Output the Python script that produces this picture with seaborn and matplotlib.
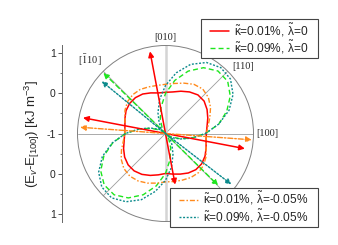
import numpy as np
import matplotlib
matplotlib.use("Agg")
import matplotlib.pyplot as plt
from matplotlib.patches import Rectangle
from matplotlib.ticker import MultipleLocator
import seaborn as sns

# polar angle in degrees (0 = [100]), 10 degree steps, 360 closes the curve
angle_deg = np.arange(0, 370, 10)

# E_v - E_[100] in kJ m^-3, every 10 degrees (0..350)
red_e = [0.02, 0.055, 0.125, 0.20, 0.26, 0.26, 0.20, 0.125, 0.055, 0.03,
         0.03, 0.08, 0.14, 0.17, 0.17, 0.14, 0.08, 0.03,
         0.02, 0.05, 0.115, 0.18, 0.22, 0.22, 0.18, 0.115, 0.05, 0.0,
         0.03, 0.08, 0.14, 0.18, 0.18, 0.14, 0.08, 0.03]
green_e = [0.0, 0.35, 0.63, 0.87, 1.03, 1.04, 0.90, 0.66, 0.35, 0.0,
           -0.34, -0.62, -0.83, -0.94, -0.94, -0.83, -0.62, -0.34,
           0.0, 0.34, 0.64, 0.87, 1.00, 1.00, 0.86, 0.63, 0.33, 0.0,
           -0.34, -0.62, -0.83, -0.94, -0.94, -0.83, -0.62, -0.34]
orange_e = [0.02, 0.08, 0.18, 0.30, 0.40, 0.45, 0.42, 0.34, 0.27, 0.23,
            0.22, 0.24, 0.27, 0.27, 0.24, 0.17, 0.08, 0.03,
            0.02, 0.07, 0.17, 0.28, 0.36, 0.39, 0.37, 0.32, 0.26, 0.21,
            0.22, 0.24, 0.27, 0.28, 0.24, 0.17, 0.08, 0.03]
teal_e = [0.0, 0.35, 0.69, 0.95, 1.12, 1.15, 1.05, 0.84, 0.54, 0.20,
          -0.14, -0.45, -0.68, -0.82, -0.85, -0.78, -0.60, -0.33,
          0.0, 0.35, 0.68, 0.93, 1.08, 1.10, 0.97, 0.76, 0.47, 0.17,
          -0.14, -0.45, -0.68, -0.82, -0.85, -0.78, -0.60, -0.33]

# easy axis arrows: direction (deg) and tip value
red_easy = [100.7, 169.2, -10.8, -79.3]
red_tip = [1.09, 1.10, 1.02, 0.30]
green_easy = [135.7, -44.6]
green_tip = [1.17, 0.85]
orange_easy = [175.8, -4.2]
orange_tip = [1.14, 1.16]
teal_easy = [140.7, -37.7]
teal_tip = [1.06, 1.08]

labels = [r"$\tilde{\mathrm{\kappa}}$=0.01%, $\tilde{\mathrm{\lambda}}$=0",
          r"$\tilde{\mathrm{\kappa}}$=0.09%, $\tilde{\mathrm{\lambda}}$=0",
          r"$\tilde{\mathrm{\kappa}}$=0.01%, $\tilde{\mathrm{\lambda}}$=-0.05%",
          r"$\tilde{\mathrm{\kappa}}$=0.09%, $\tilde{\mathrm{\lambda}}$=-0.05%"]

dir_deg = [0, 45, 90, 135]
dir_labels = ["[100]", "[110]", "[010]", r"[$\bar{1}$10]"]
grid_deg = [0, 45, 90, 135, 180, 225, 270, 315]

r_min, r_max = -1, 1.2
radial_ticks = [1, 0, -1, 0, 1]   # bottom to top along the left scale
tick_side = [-1, -1, 1, 1, 1]

sns.set_style("white")
plt.rcParams["font.family"] = ["Liberation Sans", "DejaVu Sans"]
plt.rcParams["mathtext.fontset"] = "custom"
plt.rcParams["mathtext.rm"] = "Liberation Sans"
plt.rcParams["mathtext.it"] = "Liberation Sans:italic"
plt.rcParams["mathtext.bf"] = "Liberation Sans:bold"

W, H = 338, 245
fig = plt.figure(figsize=(W / 100, H / 100), dpi=100)
ax = fig.add_axes([0.2293, 0.0959, 0.5207, 0.7184], projection="polar")

theta = np.deg2rad(angle_deg)
series = [
    (red_e, red_easy, red_tip, "#ff0000", "-", 1.1),
    (green_e, green_easy, green_tip, "#1ee61e", (0, (3.6, 2.2)), 1.0),
    (orange_e, orange_easy, orange_tip, "#ff8a1c", (0, (3.6, 1.4, 1.1, 1.4)), 1.0),
    (teal_e, teal_easy, teal_tip, "#0b8a8c", (0, (1.4, 1.2)), 1.0),
]

handles = []
for vals, easy, tips, color, ls, lw in series:
    r = np.append(vals, vals[0])
    sns.lineplot(x=theta, y=r, ax=ax, sort=False, estimator=None,
                 color=color, linestyle=ls, lw=lw, zorder=3)
    handles.append(ax.lines[-1])
    for ang, tip in zip(easy, tips):
        ax.annotate("", xy=(np.deg2rad(ang), tip), xytext=(np.deg2rad(ang), r_min),
                    arrowprops=dict(arrowstyle="-|>", color=color, lw=lw, linestyle=ls,
                                    shrinkA=0, shrinkB=0, mutation_scale=8),
                    zorder=4)

ax.set_ylim(r_min, r_max)
ax.set_yticks([])
ax.set_xticks(np.deg2rad(grid_deg))
ax.set_xticklabels([])
ax.tick_params(axis="x", length=0)
ax.set_xlabel("")
ax.set_ylabel("")
ax.grid(axis="x", color="#9c9c9c", lw=0.6)
for a in (90, 270):
    ax.axvline(np.deg2rad(a), color="#d4d4d4", lw=1.8, zorder=1)
ax.spines["polar"].set_color("#808080")
ax.spines["polar"].set_linewidth(0.7)

# crystal direction labels round the circle
label_pos = [(2, 0, "left", "center"), (3, 0, "left", "bottom"),
             (0, 2.5, "center", "bottom"), (-1.2, 2.2, "right", "bottom")]
for ang, txt, (dx, dy, ha, va) in zip(dir_deg, dir_labels, label_pos):
    ax.annotate(txt, xy=(np.deg2rad(ang), r_max), xytext=(dx, dy),
                textcoords="offset points", ha=ha, va=va, fontsize=7.5,
                family="Liberation Serif", math_fontfamily="stix")

# left radial scale: -1 at the centre, growing up and down
axl = fig.add_axes([62 / W, 0.0959, 0.0001, 0.7184])
span = r_max - r_min
axl.set_ylim(-span, span)
axl.set_yticks([(v - r_min) * s for v, s in zip(radial_ticks, tick_side)])
axl.set_yticklabels([str(v) for v in radial_ticks])
axl.yaxis.set_minor_locator(MultipleLocator(0.5))
axl.set_xticks([])
axl.patch.set_visible(False)
for side in ("top", "right", "bottom"):
    axl.spines[side].set_visible(False)
axl.spines["left"].set_color("#666666")
axl.spines["left"].set_linewidth(0.7)
axl.tick_params(axis="y", which="major", direction="out", length=3, width=0.7,
                color="#555555", labelsize=7.5, pad=1.5, left=True)
axl.tick_params(axis="y", which="minor", direction="out", length=1.8, width=0.6,
                color="#555555", left=True)

fig.text(32 / W, 1 - 133.5 / H, r"(E$_v$-E$_{[100]}$) [kJ m$^{-3}$]",
         rotation=90, ha="center", va="center", fontsize=9.5)

# legends: frame drawn separately, wider than tall padding (Origin style)
side_pad = 7
leg_kw = dict(fontsize=8.6, frameon=False, borderaxespad=0, borderpad=0.2,
              labelspacing=0.0, handlelength=1.6, handletextpad=0.45)
leg1 = fig.legend(handles[:2], labels[:2], loc="upper right",
                  bbox_to_anchor=((318 - side_pad) / W, 1 - 19 / H), **leg_kw)
leg2 = fig.legend(handles[2:], labels[2:], loc="lower right",
                  bbox_to_anchor=((318 - side_pad) / W, 1 - 227 / H), **leg_kw)
fig.canvas.draw()
renderer = fig.canvas.get_renderer()
for leg in (leg1, leg2):
    bb = leg.get_window_extent(renderer)
    fig.add_artist(Rectangle((bb.x0 - side_pad, bb.y0), bb.width + 2 * side_pad, bb.height,
                             transform=None, facecolor="white", edgecolor="#444444",
                             lw=0.8, zorder=4.5))

fig.savefig("out.png", dpi=100)
